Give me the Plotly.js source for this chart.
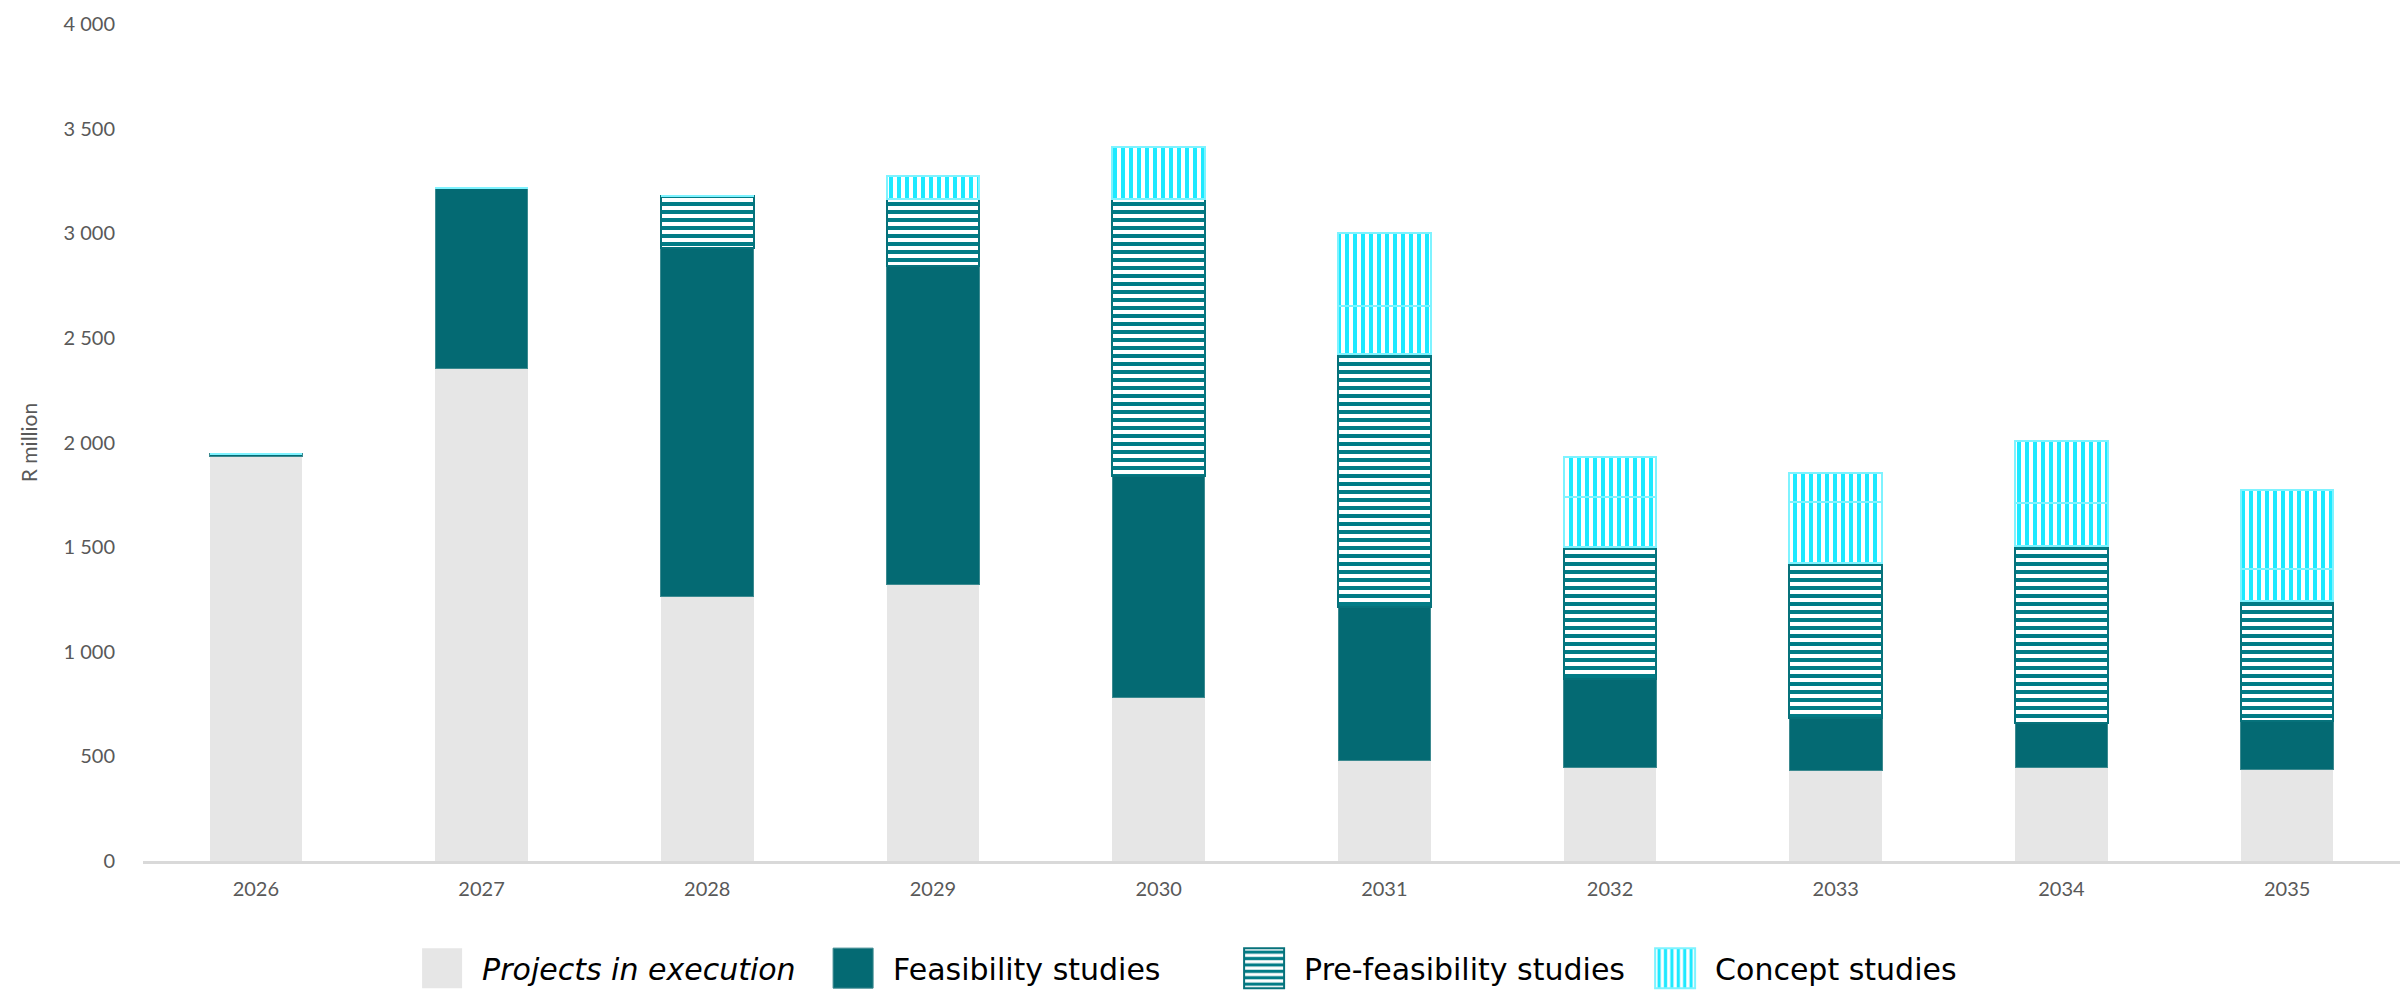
<!DOCTYPE html>
<html>
<head>
<meta charset="utf-8">
<script src="https://cdn.plot.ly/plotly-3.0.1.min.js"></script>
<style>html,body{margin:0;padding:0;background:#fff;}#chart{width:2407px;height:995px;}</style>
</head>
<body>
<div id="chart"></div>
<script>
const years = ["2026","2027","2028","2029","2030","2031","2032","2033","2034","2035"];
const execution = [1935, 2353, 1265, 1321, 780, 481, 446, 432, 448, 435];
const feasibility = [12, 861, 1663, 1523, 1062, 732, 423, 251, 211, 235];
const preFeasibility = [0, 0, 249, 319, 1320, 1210, 630, 741, 845, 574];
const conceptLower = [0, 0, 0, 111, 251, 230, 241, 292, 207, 152];
const conceptUpper = [0, 0, 0, 0, 0, 346, 191, 137, 295, 376];
const yTicks = [0, 500, 1000, 1500, 2000, 2500, 3000, 3500, 4000];
const yTickText = ["0", "500", "1 000", "1 500", "2 000", "2 500", "3 000", "3 500", "4 000"];

const FONT = "Lato, 'DejaVu Sans', sans-serif";
const LEGEND_FONT = "'DejaVu Sans', sans-serif";
const conceptMarker = {color:"#ffffff", line:{color:"#7ef3ff", width:2},
  pattern:{shape:"|", fillmode:"overlay", fgcolor:"#1ee9ff", fgopacity:1, size:8, solidity:0.5}};
const traces = [
  {type:"bar", name:"<i>Projects in execution</i>", x:years, y:execution,
   marker:{color:"#e6e6e6", line:{width:0}}},
  {type:"bar", name:"Feasibility studies", x:years, y:feasibility,
   marker:{color:"#046a73", line:{color:"#3d8a90", width:1}}},
  {type:"bar", name:"Pre-feasibility studies", x:years, y:preFeasibility,
   marker:{color:"#ffffff", line:{color:"#07727b", width:2},
     pattern:{shape:"-", fillmode:"overlay", fgcolor:"#027c86", fgopacity:1, size:8, solidity:0.5}}},
  {type:"bar", name:"Concept studies", legendgroup:"concept", x:years, y:conceptLower,
   marker:conceptMarker},
  {type:"bar", name:"Concept studies", legendgroup:"concept", showlegend:false, x:years, y:conceptUpper,
   marker:conceptMarker}
];

const layout = {
  width:2407, height:995,
  margin:{l:143, r:7, t:24, b:134, autoexpand:false},
  paper_bgcolor:"#ffffff", plot_bgcolor:"#ffffff",
  barmode:"stack", bargap:0.59,
  font:{family:FONT, color:"#595959", size:20},
  showlegend:true,
  legend:{orientation:"h", x:0.1148, xanchor:"left", y:-0.128, yanchor:"middle",
    font:{family:LEGEND_FONT, size:30, color:"#000000"}, traceorder:"normal",
    itemwidth:70, entrywidth:326, entrywidthmode:"pixels", tracegroupgap:0},
  xaxis:{type:"category", showgrid:false, zeroline:false, showline:true,
    linecolor:"#d9d9d9", linewidth:3, ticks:"", ticklabelstandoff:8,
    tickfont:{size:20, color:"#595959"}},
  yaxis:{range:[0,4000], tickvals:yTicks, ticktext:yTickText, showgrid:false,
    zeroline:false, showline:false, ticks:"", ticklabelstandoff:27, automargin:true,
    tickfont:{size:20, color:"#595959"},
    title:{text:"R million", font:{size:21, color:"#595959"}, standoff:20}}
};

Plotly.newPlot("chart", traces, layout, {displayModeBar:false, staticPlot:true}).then(function(gd){
  // enlarge legend swatches to square blocks like the original
  gd.querySelectorAll(".legend .traces .legendpoints path").forEach(function(p){
    p.setAttribute("d", "M20,20H-20V-20H20Z");
  });
});
</script>
</body>
</html>
